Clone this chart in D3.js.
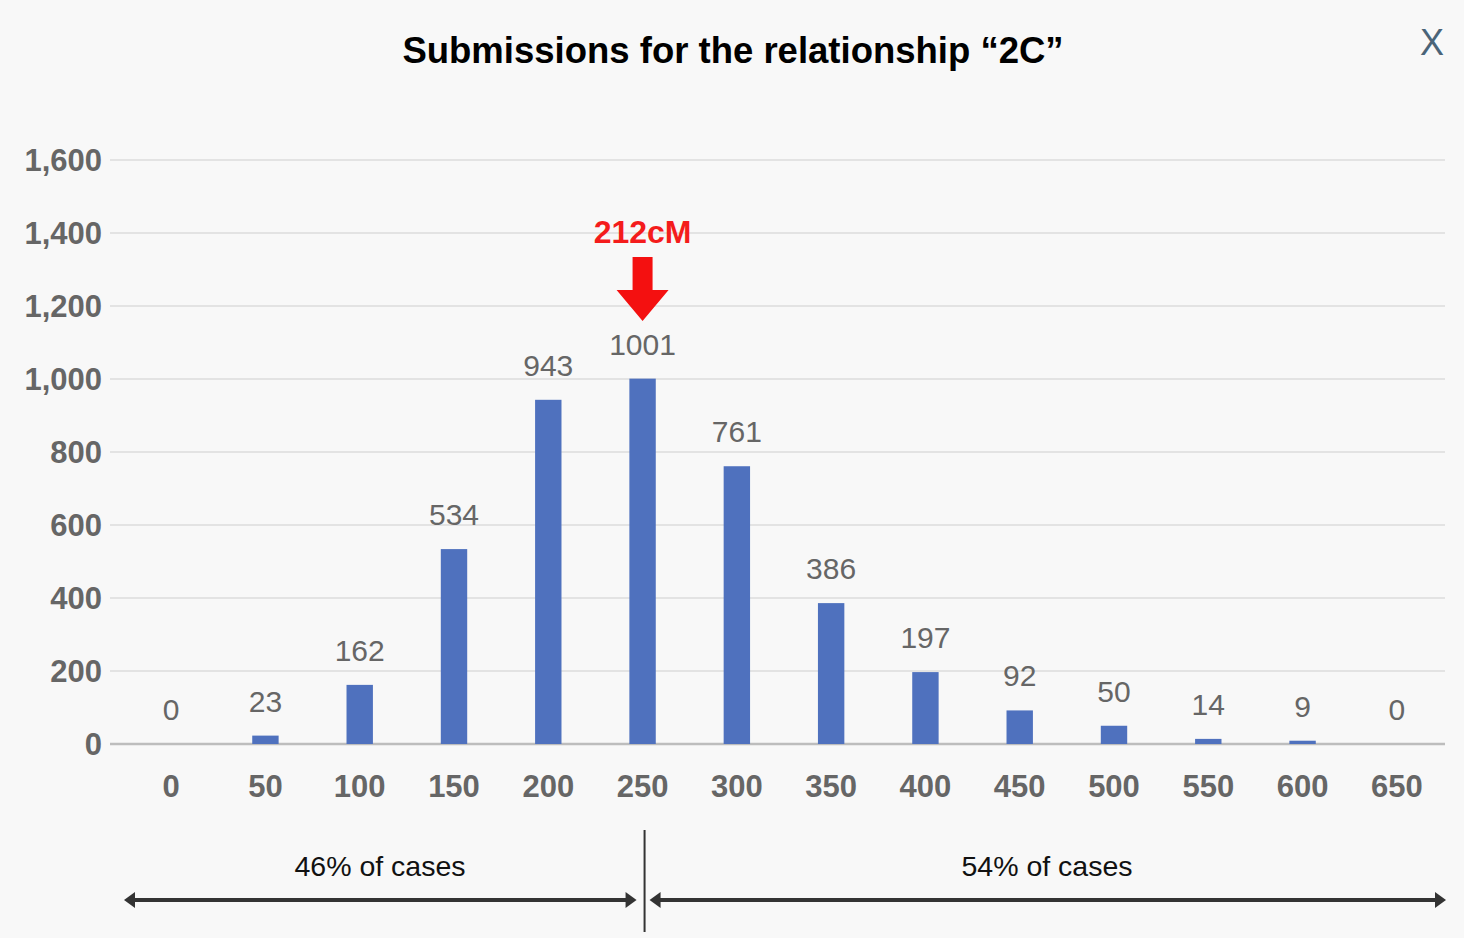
<!DOCTYPE html>
<html>
<head>
<meta charset="utf-8">
<script src="https://cdnjs.cloudflare.com/ajax/libs/d3/7.8.5/d3.min.js"></script>
<style>
  html, body { margin: 0; padding: 0; background: #f8f8f8; }
  svg { display: block; font-family: "Liberation Sans", Arial, Helvetica, sans-serif; }
  .grid line { stroke: #dcdcdc; stroke-width: 1.5; }
  .ylab { fill: #666; font-size: 31px; font-weight: bold; text-anchor: end; }
  .xlab { fill: #666; font-size: 31px; font-weight: bold; text-anchor: middle; }
  .val { fill: #666; font-size: 30px; text-anchor: middle; }
  .bar { fill: #4f71be; }
</style>
</head>
<body>
<div id="chart"></div>
<script>
// bins (cM) and submission counts
var bins = ['0', '50', '100', '150', '200', '250', '300', '350', '400', '450', '500', '550', '600', '650'];
var counts = [0, 23, 162, 534, 943, 1001, 761, 386, 197, 92, 50, 14, 9, 0];
var yTicks = [0, 200, 400, 600, 800, 1000, 1200, 1400, 1600];
var marker = { bin: '250', label: '212cM' };
var splits = ['46% of cases', '54% of cases'];

var W = 1464, H = 938;
var svg = d3.select('#chart').append('svg')
  .attr('width', W)
  .attr('height', H);

var x = d3.scaleBand()
  .domain(bins)
  .range([124, 1444])
  .paddingInner(0.72)
  .paddingOuter(0.36);

var y = d3.scaleLinear()
  .domain([0, 1600])
  .range([744, 160]);

// title + close
svg.append('text')
  .attr('x', 733).attr('y', 63)
  .attr('text-anchor', 'middle')
  .style('font-size', '36.5px').style('font-weight', 'bold').style('fill', '#000')
  .text('Submissions for the relationship \u201c2C\u201d');

svg.append('text')
  .attr('x', 1432).attr('y', 55)
  .attr('text-anchor', 'middle')
  .style('font-size', '36px').style('fill', '#4a6478')
  .text('X');

// gridlines
svg.append('g').attr('class', 'grid')
  .selectAll('line')
  .data(yTicks)
  .enter().append('line')
  .attr('x1', 110).attr('x2', 1445)
  .attr('y1', function (d) { return y(d); })
  .attr('y2', function (d) { return y(d); })
  .style('stroke', function (d) { return d === 0 ? '#bdbdbd' : null; })
  .style('stroke-width', function (d) { return d === 0 ? 2.5 : null; });

svg.append('g')
  .selectAll('text')
  .data(yTicks)
  .enter().append('text')
  .attr('class', 'ylab')
  .attr('x', 102)
  .attr('y', function (d) { return y(d) + 11; })
  .text(d3.format(','));

// bars
svg.append('g')
  .selectAll('rect')
  .data(counts)
  .enter().append('rect')
  .attr('class', 'bar')
  .attr('x', function (d, i) { return x(bins[i]); })
  .attr('width', x.bandwidth())
  .attr('y', function (d) { return y(d); })
  .attr('height', function (d) { return y(0) - y(d); });

// value labels
svg.append('g')
  .selectAll('text')
  .data(counts)
  .enter().append('text')
  .attr('class', 'val')
  .attr('x', function (d, i) { return x(bins[i]) + x.bandwidth() / 2; })
  .attr('y', function (d) { return y(d) - 24; })
  .text(function (d) { return d; });

// x labels
svg.append('g')
  .selectAll('text')
  .data(bins)
  .enter().append('text')
  .attr('class', 'xlab')
  .attr('x', function (d) { return x(d) + x.bandwidth() / 2; })
  .attr('y', 797)
  .text(function (d) { return d; });

// 212cM marker arrow
var mx = x(marker.bin) + x.bandwidth() / 2;
svg.append('text')
  .attr('x', mx).attr('y', 243)
  .attr('text-anchor', 'middle')
  .style('font-size', '32px').style('font-weight', 'bold').style('fill', '#f41c1c')
  .text(marker.label);

svg.append('path')
  .attr('d', 'M' + (mx - 10) + ',257 L' + (mx + 10) + ',257 L' + (mx + 10) + ',290 L' + (mx + 26) + ',290 L' + mx + ',321 L' + (mx - 26) + ',290 L' + (mx - 10) + ',290 Z')
  .style('fill', '#f41010');

// bottom split
var splitX = mx + 2;
svg.append('line')
  .attr('x1', splitX).attr('x2', splitX)
  .attr('y1', 830).attr('y2', 932)
  .style('stroke', '#333').style('stroke-width', 2);

function dblArrow(x1, x2, yy) {
  var g = svg.append('g');
  g.append('line')
    .attr('x1', x1 + 8).attr('x2', x2 - 8)
    .attr('y1', yy).attr('y2', yy)
    .style('stroke', '#333').style('stroke-width', 4);
  g.append('path')
    .attr('d', 'M' + x1 + ',' + yy + ' L' + (x1 + 11) + ',' + (yy - 8) + ' L' + (x1 + 11) + ',' + (yy + 8) + ' Z')
    .style('fill', '#333');
  g.append('path')
    .attr('d', 'M' + x2 + ',' + yy + ' L' + (x2 - 11) + ',' + (yy - 8) + ' L' + (x2 - 11) + ',' + (yy + 8) + ' Z')
    .style('fill', '#333');
}
dblArrow(124, splitX - 8, 900);
dblArrow(splitX + 5, 1446, 900);

svg.append('text')
  .attr('x', 380).attr('y', 876)
  .attr('text-anchor', 'middle')
  .style('font-size', '28.5px').style('fill', '#111')
  .text(splits[0]);

svg.append('text')
  .attr('x', 1047).attr('y', 876)
  .attr('text-anchor', 'middle')
  .style('font-size', '28.5px').style('fill', '#111')
  .text(splits[1]);
</script>
</body>
</html>
